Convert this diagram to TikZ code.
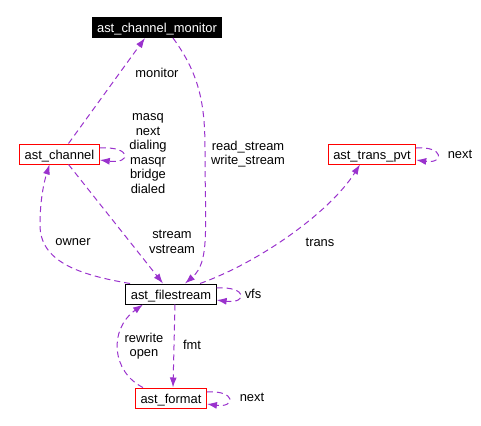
\documentclass[tikz,border=0pt]{standalone}
\usepackage{fontspec}
\setmainfont{Liberation Sans}
\usetikzlibrary{arrows.meta,calc}
\definecolor{edgepurple}{RGB}{154,50,205}
\begin{document}
\begin{tikzpicture}[x=1pt,y=-1pt,>={Latex[length=10pt,width=7pt]},
        font=\fontsize{12.9}{14.6}\selectfont,
        box/.style={draw=red,line width=1pt,minimum height=20pt,inner xsep=5pt,inner ysep=0pt,
            text height=11pt,text depth=0pt},
        link/.style={->,draw=edgepurple,line width=1pt,dash pattern=on 6pt off 4pt},
        lbl/.style={align=center,inner sep=0pt}]
    \useasboundingbox (0,0) rectangle (481,425);
    \node [box,draw=black,fill=black,text=white] (Monitor) at (157,27.5) {ast\_channel\_monitor};
    \node [box] (Channel) at (59.5,154) {ast\_channel};
    \node [box] (TransPvt) at (372,154) {ast\_trans\_pvt};
    \node [box,draw=black] (Filestream) at (171,294) {ast\_filestream};
    \node [box] (Format) at (171,398) {ast\_format};
    % labels
    \node [lbl] (MonitorLbl) at (157,73) {monitor};
    \node [lbl] (ChanLbl) at (148,153.5) {masq\\next\\dialing\\masqr\\bridge\\dialed};
    \node [lbl] (StreamLbl) at (248,154) {read\_stream\\write\_stream};
    \node [lbl] (VstreamLbl) at (172,242) {stream\\vstream};
    \node [lbl] (OwnerLbl) at (73,242) {owner};
    \node [lbl] (TransLbl) at (320,242) {trans};
    \node [lbl] (TransNext) at (460,154) {next};
    \node [lbl] (VfsLbl) at (253,294) {vfs};
    \node [lbl] (FmtLbl) at (192,345) {fmt};
    \node [lbl] (OpenLbl) at (144,346) {rewrite\\open};
    \node [lbl] (FormatNext) at (252,397) {next};
    % edges
    \draw [link] ($(Channel.north)+(9,0)$) -- ($(Monitor.south)+(-12,0)$);
    \draw [link] ($(Channel.east)+(0,-6)$) .. controls +(32,-2) and +(32,4) .. ($(Channel.east)+(0,6)$);
    \draw [link] ($(TransPvt.east)+(0,-6)$) .. controls +(28,-2) and +(28,4) .. ($(TransPvt.east)+(0,6)$);
    \draw [link] ($(Filestream.east)+(0,-6)$) .. controls +(31,-2) and +(31,4) .. ($(Filestream.east)+(0,6)$);
    \draw [link] ($(Format.east)+(0,-6)$) .. controls +(29,-2) and +(29,4) .. ($(Format.east)+(0,6)$);
    \draw [link] ($(Monitor.south)+(16,0)$) .. controls (200,75) and (205,105) .. (205,150)
        .. controls (205,230) and (210,262) .. ($(Filestream.north)+(14,0)$);
    \draw [link] ($(Filestream.north)+(-41,0)$) .. controls (80,275) and (40,262) .. (40,225)
        .. controls (40,200) and (44,182) .. ($(Channel.south)+(-10,0)$);
    \draw [link] ($(Channel.south)+(9,0)$) -- ($(Filestream.north)+(-8,0)$);
    \draw [link] ($(Filestream.north)+(29,0)$) .. controls (260,262) and (330,212) .. ($(TransPvt.south)+(-12,0)$);
    \draw [link] ($(Filestream.south)+(4,0)$) -- ($(Format.north)+(2,0)$);
    \draw [link] ($(Format.north)+(-28,0)$) .. controls (112,372) and (108,330) .. ($(Filestream.south)+(-28,0)$);
\end{tikzpicture}
\end{document}
